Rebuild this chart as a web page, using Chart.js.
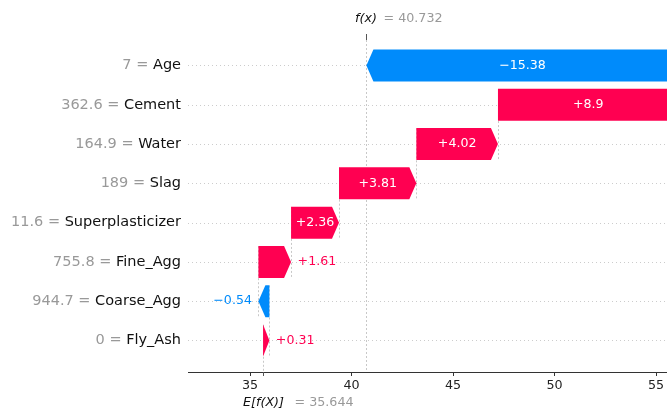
<!DOCTYPE html>
<html>
<head>
<meta charset="utf-8">
<script src="https://cdn.jsdelivr.net/npm/chart.js@4.4.1/dist/chart.umd.min.js"></script>
<style>
  html, body { margin: 0; padding: 0; background: #ffffff; }
  canvas { display: block; }
</style>
</head>
<body>
<canvas id="waterfall" width="667" height="410"></canvas>
<script>
// Feature contributions for one prediction, listed top to bottom
const features = ['Age', 'Cement', 'Water', 'Slag', 'Superplasticizer', 'Fine_Agg', 'Coarse_Agg', 'Fly_Ash'];
const featureValues = ['7', '362.6', '164.9', '189', '11.6', '755.8', '944.7', '0'];
const shapValues = [-15.38, 8.9, 4.02, 3.81, 2.36, 1.61, -0.54, 0.31];
const baseValue = 35.644;   // E[f(X)]
const outputValue = 40.732; // f(x)
const xTicks = [35, 40, 45, 50, 55];

const RED = '#ff0051';
const BLUE = '#008bfb';
const FONT = '"DejaVu Sans", "Liberation Sans", sans-serif';
const HEAD_PX = 7;

// Running totals: the waterfall grows upward from the base value
const starts = new Array(features.length);
const ends = new Array(features.length);
let running = baseValue;
for (let i = features.length - 1; i >= 0; i--) {
  starts[i] = running;
  running += shapValues[i];
  ends[i] = running;
}

function formatShap(v) {
  let s = Math.abs(v).toFixed(2).replace(/0+$/, '').replace(/\.$/, '');
  return (v >= 0 ? '+' : '\u2212') + s;
}

// Bar controller that draws each floating bar as an arrow pointing in the direction of its contribution
class ArrowBarController extends Chart.BarController {
  draw() {
    const ctx = this.chart.ctx;
    const meta = this._cachedMeta;
    ctx.save();
    meta.data.forEach((bar, i) => {
      const lo = Math.min(bar.x, bar.base);
      const hi = Math.max(bar.x, bar.base);
      const top = bar.y - bar.height / 2;
      const bot = bar.y + bar.height / 2;
      const head = Math.min(HEAD_PX, hi - lo);
      ctx.beginPath();
      if (shapValues[i] >= 0) {
        ctx.moveTo(lo, top);
        ctx.lineTo(hi - head, top);
        ctx.lineTo(hi, bar.y);
        ctx.lineTo(hi - head, bot);
        ctx.lineTo(lo, bot);
      } else {
        ctx.moveTo(hi, top);
        ctx.lineTo(lo + head, top);
        ctx.lineTo(lo, bar.y);
        ctx.lineTo(lo + head, bot);
        ctx.lineTo(hi, bot);
      }
      ctx.closePath();
      ctx.fillStyle = bar.options.backgroundColor;
      ctx.fill();
    });
    ctx.restore();
  }
}
ArrowBarController.id = 'arrowBar';
ArrowBarController.defaults = Chart.BarController.defaults;
Chart.register(ArrowBarController);

function vline(ctx, x, y0, y1) {
  ctx.beginPath();
  ctx.moveTo(x, y0);
  ctx.lineTo(x, y1);
  ctx.stroke();
}

const waterfallDecor = {
  id: 'waterfallDecor',
  beforeDatasetsDraw(chart) {
    const { ctx, chartArea: a, scales: { x, y } } = chart;
    ctx.save();
    // dotted row guides
    ctx.strokeStyle = '#cccccc';
    ctx.lineWidth = 1;
    ctx.setLineDash([1, 3]);
    features.forEach((f, i) => {
      const py = Math.round(y.getPixelForValue(i)) + 0.5;
      ctx.beginPath();
      ctx.moveTo(a.left, py);
      ctx.lineTo(a.right, py);
      ctx.stroke();
    });
    // dashed connectors linking each bar to the one below it
    ctx.strokeStyle = '#c8c8c8';
    ctx.setLineDash([2, 2]);
    features.forEach((f, i) => {
      const px = Math.round(x.getPixelForValue(starts[i])) + 0.5;
      const y0 = y.getPixelForValue(i - 0.4);
      const y1 = Math.min(y.getPixelForValue(i + 1.4), a.bottom);
      if (px <= a.right) vline(ctx, px, y0, y1);
    });
    // model output line
    const fx = Math.round(x.getPixelForValue(outputValue)) + 0.5;
    vline(ctx, fx, a.top, a.bottom);
    ctx.restore();
  },
  afterDatasetsDraw(chart) {
    const { ctx, scales: { x, y } } = chart;
    ctx.save();
    ctx.textBaseline = 'middle';
    ctx.font = '12.6px ' + FONT;
    features.forEach((f, i) => {
      const p0 = x.getPixelForValue(starts[i]);
      const p1 = x.getPixelForValue(ends[i]);
      const lo = Math.min(p0, p1), hi = Math.max(p0, p1);
      const py = y.getPixelForValue(i);
      const label = formatShap(shapValues[i]);
      const tw = ctx.measureText(label).width;
      if (tw < hi - lo - 6) {
        ctx.fillStyle = '#ffffff';
        ctx.textAlign = 'center';
        ctx.fillText(label, (lo + hi) / 2, py);
      } else if (shapValues[i] >= 0) {
        ctx.fillStyle = RED;
        ctx.textAlign = 'left';
        ctx.fillText(label, hi + 6.5, py);
      } else {
        ctx.fillStyle = BLUE;
        ctx.textAlign = 'right';
        ctx.fillText(label, lo - 6.5, py);
      }
    });
    ctx.restore();
  },
  afterDraw(chart) {
    const { ctx, chartArea: a, scales: { x, y } } = chart;
    ctx.save();
    ctx.textBaseline = 'middle';
    // feature labels: "value = name"
    const labelRight = a.left - 7;
    features.forEach((f, i) => {
      const py = y.getPixelForValue(i);
      ctx.font = '14.5px ' + FONT;
      ctx.textAlign = 'right';
      ctx.fillStyle = '#111111';
      ctx.fillText(f, labelRight, py);
      const nw = ctx.measureText(f).width;
      ctx.fillStyle = '#999999';
      ctx.fillText(featureValues[i] + ' = ', labelRight - nw, py);
    });
    // tick marks for f(x) on top and E[f(X)] at the bottom
    ctx.strokeStyle = '#555555';
    ctx.lineWidth = 1;
    const fx = Math.round(x.getPixelForValue(outputValue)) + 0.5;
    vline(ctx, fx, a.top - 6, a.top);
    const bx = Math.round(x.getPixelForValue(baseValue)) + 0.5;
    vline(ctx, bx, a.bottom, a.bottom + 4);
    // f(x) annotation
    ctx.textAlign = 'left';
    ctx.font = 'italic 12.7px ' + FONT;
    ctx.fillStyle = '#111111';
    ctx.fillText('f(x)', fx - 11.5, 19);
    ctx.font = '12.7px ' + FONT;
    ctx.fillStyle = '#999999';
    ctx.fillText('= ' + outputValue.toFixed(3), fx + 17, 19);
    // E[f(X)] annotation
    ctx.font = 'italic 12.7px ' + FONT;
    ctx.fillStyle = '#111111';
    ctx.fillText('E[f(X)]', bx - 20.5, 403);
    ctx.font = '12.7px ' + FONT;
    ctx.fillStyle = '#999999';
    ctx.fillText('= ' + baseValue.toFixed(3), bx + 31, 403);
    ctx.restore();
  }
};

new Chart(document.getElementById('waterfall'), {
  type: 'arrowBar',
  data: {
    labels: features,
    datasets: [{
      data: features.map((f, i) => ({ x: [starts[i], ends[i]], y: i })),
      backgroundColor: shapValues.map(v => (v >= 0 ? RED : BLUE)),
      barThickness: 32,
      borderWidth: 0
    }]
  },
  options: {
    indexAxis: 'y',
    responsive: false,
    animation: false,
    devicePixelRatio: 1,
    layout: { padding: { left: 188, top: 40, right: 0, bottom: 0 } },
    scales: {
      x: {
        type: 'linear',
        min: 31.946,
        max: 55.54,
        offset: false,
        afterBuildTicks: s => { s.ticks = xTicks.map(v => ({ value: v })); },
        afterFit: s => { s.height = 38; s.paddingLeft = 0; s.paddingRight = 0; },
        grid: { drawOnChartArea: false, drawTicks: true, tickLength: 4, color: '#333333', lineWidth: 1, offset: false },
        border: { display: true, color: '#333333', width: 1 },
        ticks: {
          font: { family: FONT, size: 12.7 },
          color: '#222222',
          padding: 2,
          maxRotation: 0,
          autoSkip: false
        }
      },
      y: {
        type: 'linear',
        display: false,
        reverse: true,
        offset: false,
        grid: { offset: false },
        min: -0.649,
        max: 7.802
      }
    },
    plugins: {
      legend: { display: false },
      tooltip: { enabled: false }
    }
  },
  plugins: [waterfallDecor]
});
</script>
</body>
</html>
